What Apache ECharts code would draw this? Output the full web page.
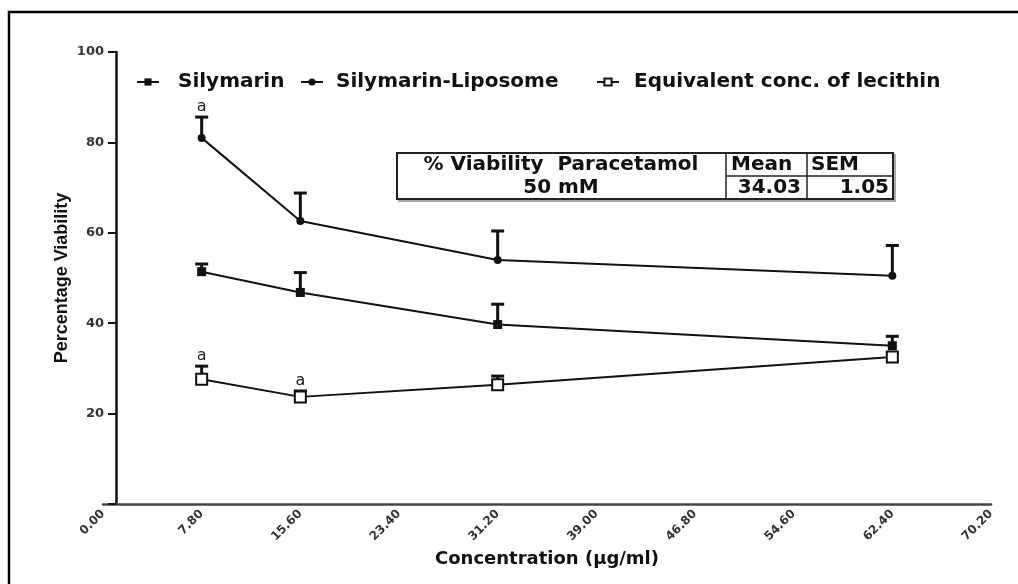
<!DOCTYPE html>
<html>
<head>
<meta charset="utf-8">
<script src="https://cdn.jsdelivr.net/npm/echarts@6/dist/echarts.min.js"></script>
<style>
html,body{margin:0;padding:0;background:#fff;}
#chart{width:1018px;height:584px;}
</style>
</head>
<body>
<div id="chart"></div>
<script>
// ---- data ----
const concentrations = [7.8, 15.6, 31.2, 62.4];
const seriesNames = ['Silymarin', 'Silymarin-Liposome', 'Equivalent conc. of lecithin'];
const silymarinMean = [51.4, 46.8, 39.7, 35.0];
const silymarinSEM = [1.7, 4.4, 4.5, 2.1];
const liposomeMean = [81.0, 62.6, 54.0, 50.5];
const liposomeSEM = [4.6, 6.2, 6.4, 6.7];
const lecithinMean = [27.6, 23.7, 26.4, 32.5];
const lecithinSEM = [2.9, 1.3, 1.9, 0.8];
const silymarinMarks = ['', '', '', ''];
const liposomeMarks = ['a', '', '', ''];
const lecithinMarks = ['a', 'a', '', ''];
const xTickStep = 7.8;
const xMax = 70.2;
const yTicks = [0, 20, 40, 60, 80, 100];
const tableHeader = ['% Viability  Paracetamol', 'Mean', 'SEM'];
const tableRow = ['50 mM', '34.03', '1.05'];
const xAxisTitle = 'Concentration (µg/ml)';
const yAxisTitle = 'Percentage Viability';

// ---- build ----
const BOLD = 'DejaVu Sans';
function pts(means) { return concentrations.map((c, i) => [c, means[i]]); }
function errPts(means, sems) { return concentrations.map((c, i) => [c, means[i], sems[i]]); }

function errorSeries(name, means, sems, marks) {
  return {
    type: 'custom',
    name: name + ' SEM',
    z: 1,
    silent: true,
    data: errPts(means, sems),
    renderItem: function (params, api) {
      const x = api.value(0), y = api.value(1), e = api.value(2);
      const p0 = api.coord([x, y]);
      const p1 = api.coord([x, y + e]);
      const children = [
        { type: 'line', shape: { x1: p0[0], y1: p0[1], x2: p1[0], y2: p1[1] }, style: { stroke: '#111', lineWidth: 3 } },
        { type: 'line', shape: { x1: p1[0] - 6.5, y1: p1[1], x2: p1[0] + 6.5, y2: p1[1] }, style: { stroke: '#111', lineWidth: 3 } }
      ];
      const m = marks[params.dataIndex];
      if (m) {
        children.push({ type: 'text', style: { text: m, x: p1[0], y: p1[1] - 2, align: 'center', verticalAlign: 'bottom', font: '16px "DejaVu Sans"', fill: '#222' } });
      }
      return { type: 'group', children: children };
    }
  };
}

function lineSeries(name, means, symbol, size, fill) {
  return {
    type: 'line',
    name: name,
    z: 3,
    data: pts(means),
    symbol: symbol,
    symbolSize: size,
    showAllSymbol: true,
    lineStyle: { color: '#111', width: 2 },
    itemStyle: { color: fill, borderColor: '#111', borderWidth: fill === '#fff' ? 2 : 0 },
    emphasis: { disabled: true }
  };
}

function legendAt(name, left, pad) {
  return {
    data: [name],
    left: left, top: 72,
    padding: 0,
    itemWidth: 22, itemHeight: 9,
    textStyle: { fontFamily: BOLD, fontWeight: 'bold', fontSize: 20, color: '#111', padding: [0, 0, 0, pad] }
  };
}

const chart = echarts.init(document.getElementById('chart'));
const option = {
  animation: false,
  backgroundColor: '#fff',
  grid: { left: 103, right: 27, top: 52, bottom: 80 },
  legend: [
    legendAt(seriesNames[0], 136, 14),
    legendAt(seriesNames[1], 300, 8),
    legendAt(seriesNames[2], 596, 10)
  ],
  xAxis: {
    type: 'value', min: 0, max: xMax, interval: xTickStep,
    axisLine: { lineStyle: { color: '#444', width: 2.5 } },
    axisTick: { show: false },
    splitLine: { show: false },
    axisLabel: {
      rotate: 45, margin: 8, color: '#333', fontFamily: BOLD, fontWeight: 'bold', fontSize: 12,
      showMaxLabel: true, showMinLabel: true,
      formatter: v => v.toFixed(2)
    },
    name: xAxisTitle, nameLocation: 'middle', nameGap: 46,
    nameTextStyle: { fontFamily: BOLD, fontWeight: 'bold', fontSize: 18, color: '#111' }
  },
  yAxis: {
    type: 'value', min: yTicks[0], max: yTicks[yTicks.length - 1], interval: yTicks[1] - yTicks[0],
    offset: -13,
    axisLine: { show: true, lineStyle: { color: '#111', width: 2.5 } },
    axisTick: { show: true, length: 8, lineStyle: { color: '#111', width: 2 } },
    splitLine: { show: false },
    axisLabel: {
      margin: 12, color: '#333', fontFamily: BOLD, fontWeight: 'bold', fontSize: 13,
      formatter: v => (v === 0 ? '' : String(v))
    },
    name: yAxisTitle, nameLocation: 'middle', nameGap: 45, nameMoveOverlap: false,
    nameTextStyle: { fontFamily: 'Liberation Sans', fontWeight: 'bold', fontSize: 18, color: '#111' }
  },
  series: [
    errorSeries(seriesNames[0], silymarinMean, silymarinSEM, silymarinMarks),
    errorSeries(seriesNames[1], liposomeMean, liposomeSEM, liposomeMarks),
    errorSeries(seriesNames[2], lecithinMean, lecithinSEM, lecithinMarks),
    lineSeries(seriesNames[0], silymarinMean, 'rect', 9, '#111'),
    lineSeries(seriesNames[1], liposomeMean, 'circle', 8, '#111'),
    lineSeries(seriesNames[2], lecithinMean, 'rect', 11, '#fff')
  ],
  graphic: [
    { type: 'rect', silent: true, shape: { x: 9, y: 12, width: 1040, height: 620 }, style: { fill: 'none', stroke: '#000', lineWidth: 2.5 } },
    { type: 'rect', silent: true, shape: { x: 399, y: 155, width: 496, height: 46 }, style: { fill: '#aaa', stroke: '#aaa', lineWidth: 2 }, z: 9 },
    { type: 'rect', silent: true, shape: { x: 397, y: 153, width: 496, height: 46 }, style: { fill: '#fff', stroke: '#222', lineWidth: 2 }, z: 10 },
    { type: 'line', silent: true, shape: { x1: 726, y1: 153, x2: 726, y2: 199 }, style: { stroke: '#222', lineWidth: 1.5 }, z: 11 },
    { type: 'line', silent: true, shape: { x1: 807, y1: 153, x2: 807, y2: 199 }, style: { stroke: '#222', lineWidth: 1.5 }, z: 11 },
    { type: 'line', silent: true, shape: { x1: 726, y1: 176, x2: 893, y2: 176 }, style: { stroke: '#222', lineWidth: 1.5 }, z: 11 },
    { type: 'text', silent: true, z: 12, style: { text: tableHeader[0], x: 561, y: 165, align: 'center', verticalAlign: 'middle', font: 'bold 20px "DejaVu Sans"', fill: '#111' } },
    { type: 'text', silent: true, z: 12, style: { text: tableRow[0], x: 561, y: 188, align: 'center', verticalAlign: 'middle', font: 'bold 20px "DejaVu Sans"', fill: '#111' } },
    { type: 'text', silent: true, z: 12, style: { text: tableHeader[1], x: 731, y: 165, align: 'left', verticalAlign: 'middle', font: 'bold 20px "DejaVu Sans"', fill: '#111' } },
    { type: 'text', silent: true, z: 12, style: { text: tableHeader[2], x: 811, y: 165, align: 'left', verticalAlign: 'middle', font: 'bold 20px "DejaVu Sans"', fill: '#111' } },
    { type: 'text', silent: true, z: 12, style: { text: tableRow[1], x: 801, y: 188, align: 'right', verticalAlign: 'middle', font: 'bold 20px "DejaVu Sans"', fill: '#111' } },
    { type: 'text', silent: true, z: 12, style: { text: tableRow[2], x: 889, y: 188, align: 'right', verticalAlign: 'middle', font: 'bold 20px "DejaVu Sans"', fill: '#111' } }
  ]
};
chart.setOption(option);
</script>
</body>
</html>
